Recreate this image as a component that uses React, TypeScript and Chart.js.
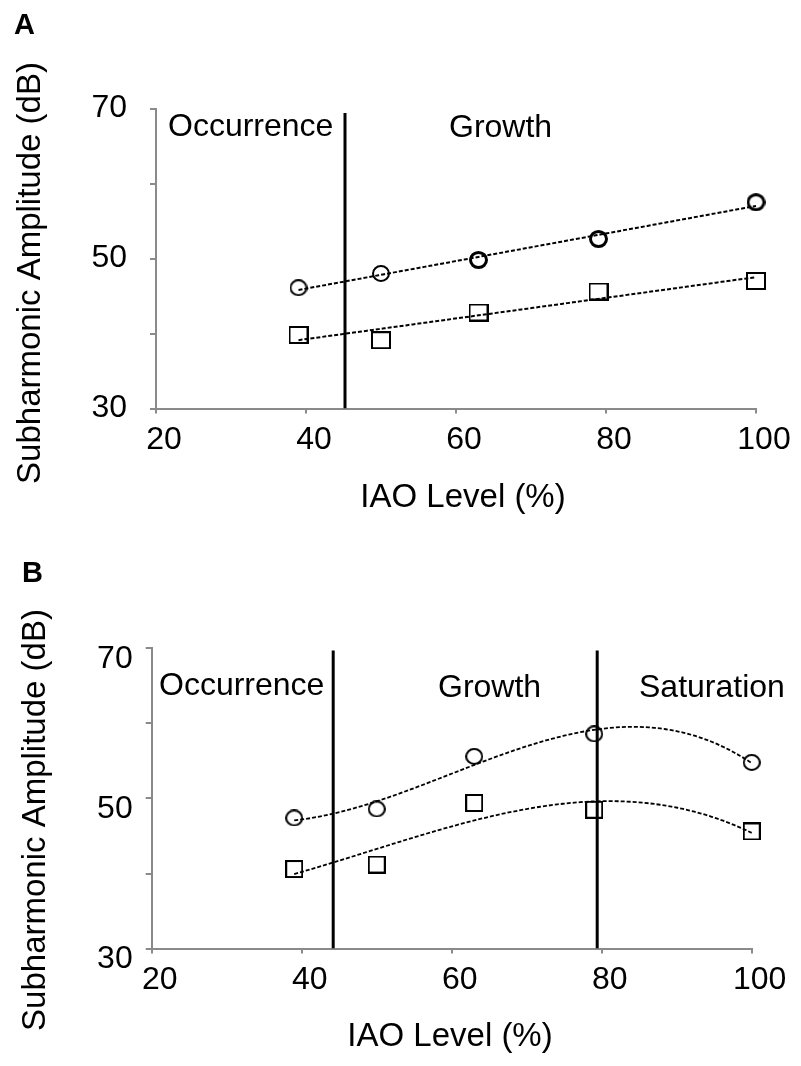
import { useEffect, useRef } from "react";
import { Chart, registerables } from "chart.js";

Chart.register(...registerables);

// IAO levels (%) at which the subharmonic amplitude was measured
const iaoLevels = [39, 50, 63, 79, 100];

// Panel A: subharmonic amplitude (dB)
const circlesA = [46.1, 48.0, 49.8, 52.6, 57.5];
const squaresA = [39.8, 39.1, 42.8, 45.6, 47.0];

// Panel B: subharmonic amplitude (dB)
const circlesB = [47.4, 48.6, 55.6, 58.6, 54.8];
const squaresB = [40.6, 41.2, 49.4, 48.5, 45.6];

// Phase boundaries (IAO %)
const boundariesA = [45.2];
const boundariesB = [44.2, 79.4];

// Phase names
const regionsA = ["Occurrence", "Growth"];
const regionsB = ["Occurrence", "Growth", "Saturation"];

// Axis ticks
const xTicks = [20, 40, 60, 80, 100];
const yLabelled = [30, 50, 70];

const FONT = "'Liberation Sans', Arial, Helvetica, sans-serif";
const W = 801;
const H = 533;

// Least-squares polynomial trendline evaluated over the measured range
function polyFit(xs: number[], ys: number[], order: number) {
  const cx = 70;
  const sx = 30;
  const n = order + 1;
  const A: number[][] = Array.from({ length: n }, () => new Array(n + 1).fill(0));
  xs.forEach((x, i) => {
    const t = (x - cx) / sx;
    for (let r = 0; r < n; r++) {
      for (let c = 0; c < n; c++) A[r][c] += Math.pow(t, r + c);
      A[r][n] += ys[i] * Math.pow(t, r);
    }
  });
  for (let p = 0; p < n; p++) {
    let best = p;
    for (let r = p + 1; r < n; r++) if (Math.abs(A[r][p]) > Math.abs(A[best][p])) best = r;
    [A[p], A[best]] = [A[best], A[p]];
    for (let r = 0; r < n; r++) {
      if (r === p) continue;
      const f = A[r][p] / A[p][p];
      for (let c = p; c <= n; c++) A[r][c] -= f * A[p][c];
    }
  }
  const coef = A.map((row, i) => row[n] / row[i]);
  return (x: number) => {
    const t = (x - cx) / sx;
    return coef.reduce((s, c, i) => s + c * Math.pow(t, i), 0);
  };
}

function trendline(xs: number[], ys: number[], order: number) {
  const f = polyFit(xs, ys, order);
  const lo = Math.min(...xs);
  const hi = Math.max(...xs);
  const pts: { x: number; y: number }[] = [];
  const steps = 80;
  for (let i = 0; i <= steps; i++) {
    const x = lo + ((hi - lo) * i) / steps;
    pts.push({ x, y: f(x) });
  }
  return pts;
}

// Open (unfilled) marker glyphs
function ellipseMarker(w: number, h: number, lw: number) {
  const c = document.createElement("canvas");
  c.width = w;
  c.height = h;
  const g = c.getContext("2d")!;
  g.strokeStyle = "#000";
  g.lineWidth = lw;
  g.beginPath();
  g.ellipse(w / 2, h / 2, (w - lw) / 2, (h - lw) / 2, 0, 0, Math.PI * 2);
  g.stroke();
  return c;
}

function rectMarker(w: number, h: number, lw: number) {
  const c = document.createElement("canvas");
  c.width = w;
  c.height = h;
  const g = c.getContext("2d")!;
  g.strokeStyle = "#000";
  g.lineWidth = lw;
  g.strokeRect(lw / 2, lw / 2, w - lw, h - lw);
  return c;
}

type Geometry = {
  area: { left: number; right: number; top: number; bottom: number };
  yPad: number;
  yOffset: number;
  letter: { x: number; y: number };
  yTitle: { x: number; y: number };
  xTitle: { x: number; y: number };
  regionPos: { x: number; y: number }[];
  lineTop: number;
  trendWidth: number;
};

type PanelProps = {
  letter: string;
  circles: number[];
  squares: number[];
  order: number;
  boundaries: number[];
  regions: string[];
  geo: Geometry;
  boldFrom: number;
  marker: { cw: number; ch: number; sw: number; sh: number };
};

function Panel({ letter, circles, squares, order, boundaries, regions, geo, boldFrom, marker }: PanelProps) {
  const ref = useRef<HTMLCanvasElement | null>(null);

  useEffect(() => {
    const canvas = ref.current;
    if (!canvas) return;
    const circle = ellipseMarker(marker.cw, marker.ch, 2);
    const circleBold = ellipseMarker(marker.cw + 1, marker.ch + 1, 3);
    const square = rectMarker(marker.sw, marker.sh, 2);

    const toPts = (ys: number[]) => iaoLevels.map((x, i) => ({ x, y: ys[i] }));

    const textPlugin = {
      id: "panelText",
      afterDraw(chart: Chart) {
        const ctx = chart.ctx;
        ctx.save();
        ctx.fillStyle = "#000";
        ctx.textBaseline = "alphabetic";

        ctx.font = `bold 29px ${FONT}`;
        ctx.textAlign = "left";
        ctx.fillText(letter, geo.letter.x, geo.letter.y);

        ctx.font = `32px ${FONT}`;
        regions.forEach((r, i) => {
          ctx.fillText(r, geo.regionPos[i].x, geo.regionPos[i].y);
        });

        ctx.font = `33px ${FONT}`;
        ctx.textAlign = "center";
        ctx.fillText("IAO Level (%)", geo.xTitle.x, geo.xTitle.y);

        ctx.translate(geo.yTitle.x, geo.yTitle.y);
        ctx.rotate(-Math.PI / 2);
        ctx.fillText("Subharmonic Amplitude (dB)", 0, 0);
        ctx.restore();
      },
    };

    const axisGrey = "#8a8a8a";

    const chart = new Chart(canvas, {
      type: "scatter",
      data: {
        datasets: [
          {
            data: toPts(circles),
            pointStyle: (c: any) => (c.dataIndex >= boldFrom ? circleBold : circle),
            pointRadius: 6,
            showLine: false,
            clip: false,
          },
          {
            data: toPts(squares),
            pointStyle: square,
            pointRadius: 6,
            showLine: false,
            clip: false,
          },
          {
            data: trendline(iaoLevels, circles, order),
            showLine: true,
            borderColor: "#000",
            borderWidth: geo.trendWidth,
            borderDash: [4, 2],
            pointRadius: 0,
            tension: 0,
            clip: false,
          },
          {
            data: trendline(iaoLevels, squares, order),
            showLine: true,
            borderColor: "#000",
            borderWidth: geo.trendWidth,
            borderDash: [4, 2],
            pointRadius: 0,
            tension: 0,
            clip: false,
          },
          ...boundaries.map((b) => ({
            data: [
              { x: b, y: 30 },
              { x: b, y: geo.lineTop },
            ],
            showLine: true,
            borderColor: "#000",
            borderWidth: 3,
            pointRadius: 0,
          })),
        ],
      },
      options: {
        responsive: false,
        animation: false,
        events: [],
        layout: {
          padding: { left: 0, top: geo.area.top, right: W - geo.area.right, bottom: 0 },
        },
        plugins: {
          legend: { display: false },
          tooltip: { enabled: false },
        },
        scales: {
          x: {
            type: "linear",
            min: 20,
            max: 100,
            afterBuildTicks: (s: any) => {
              s.ticks = xTicks.map((v) => ({ value: v }));
            },
            afterFit: (s: any) => {
              s.height = H - geo.area.bottom;
            },
            grid: {
              drawOnChartArea: false,
              drawTicks: true,
              tickLength: 5,
              color: axisGrey,
              lineWidth: 2,
            },
            border: { display: true, color: axisGrey, width: 2 },
            ticks: {
              color: "#000",
              font: { family: FONT, size: 32 },
              padding: 7,
              labelOffset: 8,
              maxRotation: 0,
              autoSkip: false,
            },
          },
          y: {
            type: "linear",
            min: 30,
            max: 70,
            afterFit: (s: any) => {
              s.width = geo.area.left;
            },
            grid: {
              drawOnChartArea: false,
              drawTicks: true,
              tickLength: 6,
              color: axisGrey,
              lineWidth: 2,
            },
            border: { display: true, color: axisGrey, width: 2 },
            ticks: {
              stepSize: 10,
              color: "#000",
              font: { family: FONT, size: 32 },
              padding: geo.yPad,
              labelOffset: geo.yOffset,
              callback: (v: any) => (yLabelled.includes(Number(v)) ? String(v) : ""),
            },
          },
        },
      },
      plugins: [textPlugin],
    } as any);

    return () => chart.destroy();
  }, []);

  return <canvas ref={ref} width={W} height={H} style={{ display: "block" }} />;
}

const geoA: Geometry = {
  area: { left: 156, right: 756, top: 108.5, bottom: 408.5 },
  yPad: 23,
  yOffset: 0,
  letter: { x: 14, y: 34 },
  yTitle: { x: 40, y: 273 },
  xTitle: { x: 463, y: 507 },
  regionPos: [
    { x: 168, y: 136 },
    { x: 449, y: 137 },
  ],
  lineTop: 69.4,
  trendWidth: 2,
};

const geoB: Geometry = {
  area: { left: 151.7, right: 751.7, top: 115.3, bottom: 415.6 },
  yPad: 13,
  yOffset: 11,
  letter: { x: 22, y: 49 },
  yTitle: { x: 45, y: 287 },
  xTitle: { x: 450, y: 513 },
  regionPos: [
    { x: 159, y: 162 },
    { x: 438, y: 164 },
    { x: 639, y: 164 },
  ],
  lineTop: 69.7,
  trendWidth: 1.8,
};

export default function App() {
  return (
    <div style={{ position: "absolute", left: 0, top: 0, width: W, height: 2 * H, background: "#fff" }}>
      <Panel
        letter="A"
        circles={circlesA}
        squares={squaresA}
        order={1}
        boundaries={boundariesA}
        regions={regionsA}
        geo={geoA}
        boldFrom={2}
        marker={{ cw: 18, ch: 17, sw: 20, sh: 18 }}
      />
      <Panel
        letter="B"
        circles={circlesB}
        squares={squaresB}
        order={3}
        boundaries={boundariesB}
        regions={regionsB}
        geo={geoB}
        boldFrom={99}
        marker={{ cw: 18, ch: 17, sw: 18, sh: 18 }}
      />
    </div>
  );
}
